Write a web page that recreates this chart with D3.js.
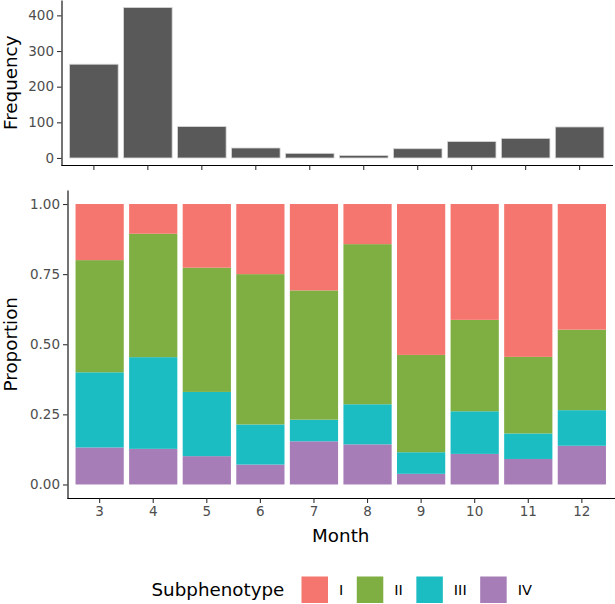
<!DOCTYPE html>
<html>
<head>
<meta charset="utf-8">
<script src="https://cdn.jsdelivr.net/npm/d3@7"></script>
<style>
  html, body { margin: 0; padding: 0; background: #fff; }
  svg { display: block; font-family: "DejaVu Sans", sans-serif; }
</style>
</head>
<body>
<svg id="chart" width="615" height="604"></svg>
<script>
// ---- data ----
const months = ["3", "4", "5", "6", "7", "8", "9", "10", "11", "12"];
const frequency = [263, 422, 88, 28, 13, 7, 26, 46, 55, 87];
const freqTicks = [0, 100, 200, 300, 400];
const subphenotypes = ["I", "II", "III", "IV"];
const propI   = [0.200, 0.106, 0.227, 0.250, 0.308, 0.143, 0.538, 0.413, 0.545, 0.448];
const propII  = [0.400, 0.440, 0.443, 0.536, 0.461, 0.571, 0.347, 0.326, 0.273, 0.287];
const propIII = [0.268, 0.327, 0.229, 0.143, 0.077, 0.143, 0.077, 0.152, 0.091, 0.127];
const propIV  = [0.132, 0.127, 0.101, 0.071, 0.154, 0.143, 0.038, 0.109, 0.091, 0.138];
const propTicks = [0, 0.25, 0.5, 0.75, 1];
const colors = ["#F4766F", "#7FAF42", "#1CBDC2", "#A67DB7"];

const svg = d3.select("#chart");
const tickColor = "#4D4D4D";
const tickFont = 13.5;
const titleFont = 18.3;

function styleAxis(g) {
  g.select(".domain").attr("stroke", "#000").attr("stroke-width", 1.1);
  g.selectAll(".tick line").attr("stroke", "#333").attr("stroke-width", 1.1);
  g.selectAll(".tick text").attr("fill", tickColor).attr("font-size", tickFont)
    .attr("font-family", "DejaVu Sans");
}

// ---- top panel: frequency ----
const topP = { left: 61.5, right: 612, top: 0, bottom: 165.5 };
const xTop = d3.scaleBand().domain(months).range([topP.left, topP.right])
  .paddingInner(0.1).paddingOuter(0.15);
const fMax = d3.max(frequency);
const yTop = d3.scaleLinear().domain([-0.05 * fMax, 1.05 * fMax]).range([topP.bottom, topP.top]);

svg.append("g").selectAll("rect").data(months).join("rect")
  .attr("x", (d) => xTop(d))
  .attr("width", xTop.bandwidth())
  .attr("y", (d, i) => yTop(frequency[i]))
  .attr("height", (d, i) => yTop(0) - yTop(frequency[i]))
  .attr("fill", "#595959")
  .attr("stroke", "#d6d6d6")
  .attr("stroke-width", 0.8);

const gTopX = svg.append("g").attr("transform", `translate(0,${topP.bottom})`)
  .call(d3.axisBottom(xTop).tickSizeOuter(0).tickSizeInner(4.5).tickFormat(""));
styleAxis(gTopX);
gTopX.select(".domain").attr("d", `M${topP.left},0H${topP.right + 1}`);

const gTopY = svg.append("g").attr("transform", `translate(${topP.left},0)`)
  .call(d3.axisLeft(yTop).tickValues(freqTicks).tickSizeOuter(0).tickSizeInner(4.5).tickPadding(3));
styleAxis(gTopY);

svg.append("text")
  .attr("transform", `translate(16.5,${(topP.top + topP.bottom) / 2}) rotate(-90)`)
  .attr("text-anchor", "middle")
  .attr("font-size", titleFont)
  .attr("fill", "#000")
  .text("Frequency");

// ---- bottom panel: proportion ----
const botP = { left: 67.5, right: 614, top: 190, bottom: 498.5 };
const xBot = d3.scaleBand().domain(months).range([botP.left, botP.right])
  .paddingInner(0.1).paddingOuter(0.15);
const yBot = d3.scaleLinear().domain([-0.05, 1.05]).range([botP.bottom, botP.top]);

const seriesArrays = { I: propI, II: propII, III: propIII, IV: propIV };
const table = months.map((m, i) => {
  const row = { month: m };
  subphenotypes.forEach((s) => { row[s] = seriesArrays[s][i]; });
  return row;
});
const stack = d3.stack().keys(["IV", "III", "II", "I"]);
const stacked = stack(table);
const color = d3.scaleOrdinal().domain(subphenotypes).range(colors);

svg.append("g").selectAll("g").data(stacked).join("g")
  .attr("fill", (s) => color(s.key))
  .selectAll("rect").data((s) => s).join("rect")
  .attr("x", (d) => xBot(d.data.month))
  .attr("width", xBot.bandwidth())
  .attr("y", (d) => yBot(d[1]))
  .attr("height", (d) => yBot(d[0]) - yBot(d[1]));

const gBotX = svg.append("g").attr("transform", `translate(0,${botP.bottom})`)
  .call(d3.axisBottom(xBot).tickSizeOuter(0).tickSizeInner(4.5).tickPadding(3));
styleAxis(gBotX);
gBotX.select(".domain").attr("d", `M${botP.left},0H${botP.right + 1}`);

const gBotY = svg.append("g").attr("transform", `translate(${botP.left},0)`)
  .call(d3.axisLeft(yBot).tickValues(propTicks).tickFormat(d3.format(".2f"))
    .tickSizeOuter(0).tickSizeInner(4.5).tickPadding(3));
styleAxis(gBotY);

svg.append("text")
  .attr("transform", `translate(16.5,${(botP.top + botP.bottom) / 2}) rotate(-90)`)
  .attr("text-anchor", "middle")
  .attr("font-size", titleFont)
  .attr("fill", "#000")
  .text("Proportion");

svg.append("text")
  .attr("x", (botP.left + botP.right) / 2)
  .attr("y", 541.5)
  .attr("text-anchor", "middle")
  .attr("font-size", titleFont)
  .attr("fill", "#000")
  .text("Month");

// ---- legend ----
const legend = svg.append("g");
legend.append("text")
  .attr("x", 151.5).attr("y", 596)
  .attr("font-size", titleFont).attr("fill", "#000")
  .text("Subphenotype");
let lx = 301.5;
const keySize = 26.5;
const keyTop = 576.5;
subphenotypes.forEach((s) => {
  legend.append("rect")
    .attr("x", lx).attr("y", keyTop)
    .attr("width", keySize).attr("height", keySize)
    .attr("fill", color(s));
  lx += keySize + 11;
  const t = legend.append("text")
    .attr("x", lx).attr("y", keyTop + keySize / 2 + 5)
    .attr("font-size", 14.5).attr("fill", "#000")
    .text(s);
  lx += t.node().getComputedTextLength() + 13.5;
});
</script>
</body>
</html>
